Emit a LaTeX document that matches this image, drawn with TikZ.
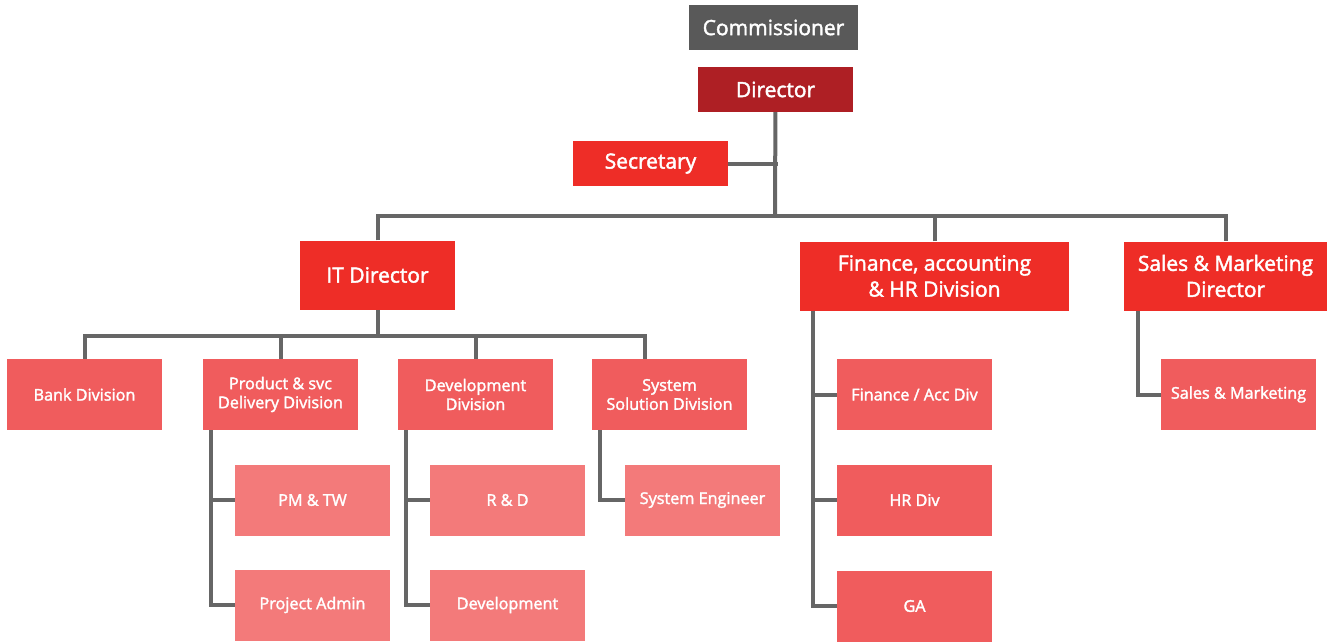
\documentclass[tikz,border=0pt]{standalone}
\usepackage{fontspec}
\setmainfont{Open Sans}[UprightFeatures={FakeBold=2}]
\usetikzlibrary{positioning}
\definecolor{dark_gray}{RGB}{89,89,89}
\definecolor{dark_red}{RGB}{174,31,36}
\definecolor{main_red}{RGB}{238,45,39}
\definecolor{mid_red}{RGB}{240,92,93}
\definecolor{light_red}{RGB}{243,122,122}
\definecolor{line_gray}{RGB}{102,102,102}

\begin{document}
\begin{tikzpicture}[
      x=1pt,y=-1pt,
      box/.style={
         rectangle,
         inner sep=0pt,
         text=white,
         align=center},
      box_top/.style={
         box,
         minimum width=155pt,
         minimum height=45pt,
         font=\fontsize{21}{26}\selectfont},
      box_head/.style={
         box,
         fill=main_red,
         minimum height=69pt,
         font=\fontsize{21}{26}\selectfont},
      box_div/.style={
         box,
         fill=mid_red,
         minimum width=155pt,
         minimum height=71pt,
         font=\fontsize{16.2}{19}\selectfont},
      box_unit/.style={
         box,
         fill=light_red,
         minimum width=155pt,
         minimum height=71pt,
         font=\fontsize{16.2}{19}\selectfont},
      conn/.style={
        draw=line_gray,
        line width=4pt},
      ]
      \useasboundingbox (0,0) rectangle (1332,643);
      % top
      \node[box_top,fill=dark_gray,minimum width=169pt] (commissioner) at (773.5,27.5) {Commissioner};
      \node[box_top,fill=dark_red] (director) at (775.5,89.5) {Director};
      \node[box_top,fill=main_red] (secretary) at (650.5,163.5) {Secretary};

      % heads
      \node[box_head,minimum width=155pt] (it_dir) at (377.5,275) {IT Director};
      \node[box_head,minimum width=269pt] (fin_dir) at (934.5,276) {Finance, accounting\\ \& HR Division};
      \node[box_head,minimum width=203pt] (sales_dir) at (1225.5,276) {Sales \& Marketing\\ Director};

      % divisions
      \node[box_div] (bank) at (84.5,394.5) {Bank Division};
      \node[box_div] (product) at (280.5,394.5) {Product \& svc\\ Delivery Division};
      \node[box_div] (dev_div) at (475.5,394.5) {Development\\ Division};
      \node[box_div] (sys_sol) at (669.5,394.5) {System\\ Solution Division};
      \node[box_div] (fin_acc) at (914.5,394.5) {Finance / Acc Div};
      \node[box_div] (hr_div) at (914.5,500) {HR Div};
      \node[box_div] (ga) at (914.5,606) {GA};
      \node[box_div] (sales_mkt) at (1238.5,394.5) {Sales \& Marketing};

      % units
      \node[box_unit] (pm_tw) at (312.5,500) {PM \& TW};
      \node[box_unit] (proj_admin) at (312.5,605) {Project Admin};
      \node[box_unit] (rnd) at (507.5,500) {R \& D};
      \node[box_unit] (development) at (507.5,605) {Development};
      \node[box_unit] (sys_eng) at (702.5,500) {System Engineer};

      \coordinate (bus) at (775,216);
      \coordinate (it_bus) at (377.5,336);

      % main bus
      \draw[conn] (director) -- (bus);
      \draw[conn] (secretary.east) -- ([xshift=2]secretary.east -| director.south);
      \draw[conn] (it_dir.north) -- (it_dir.north |- bus) -- (sales_dir.north |- bus) -- (sales_dir.north);
      \draw[conn] (fin_dir.north) -- (fin_dir.north |- bus);

      % IT bus
      \draw[conn] (it_dir) -- (it_bus);
      \draw[conn] (bank.north) -- (bank.north |- it_bus) -- ([xshift=53]sys_sol.north west |- it_bus) -- ([xshift=53]sys_sol.north west);
      \foreach \i in {product,dev_div}
        \draw[conn] (\i.north) -- (\i.north |- it_bus);

      % side branches
      \foreach \i/\j/\s in {% parent/child/shift
        product/pm_tw/8,
        product/proj_admin/8,
        dev_div/rnd/8,
        dev_div/development/8,
        sys_sol/sys_eng/8,
        fin_dir/fin_acc/13,
        fin_dir/hr_div/13,
        fin_dir/ga/13,
        sales_dir/sales_mkt/14}
        \draw[conn] ([xshift=\s]\i.south west) |- (\j.west);
\end{tikzpicture}
\end{document}
